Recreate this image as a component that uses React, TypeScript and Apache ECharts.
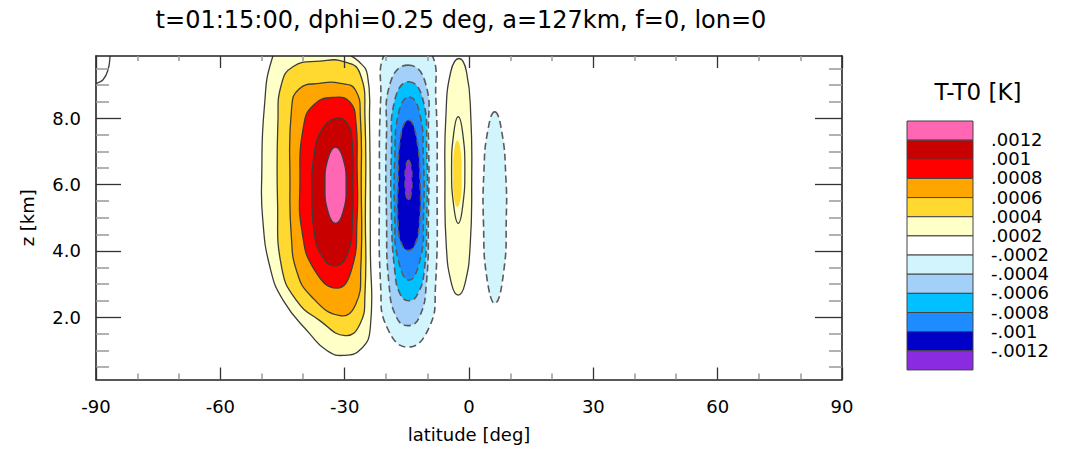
import React, { useEffect, useRef } from "react";
import * as echarts from "echarts";

const TITLE = "t=01:15:00, dphi=0.25 deg, a=127km, f=0, lon=0";
const X_NAME = "latitude [deg]";
const Y_NAME = "z [km]";
const LEGEND_TITLE = "T-T0 [K]";

const LAT_MIN = -90;
const LAT_MAX = 90;
const LAT_STEP = 30;
const Z_MIN = 0.125;
const Z_MAX = 9.875;
const zMajorTicks = [2, 4, 6, 8];
const zMinorTicks = [0.5, 1, 1.5, 2.5, 3, 3.5, 4.5, 5, 5.5, 6.5, 7, 7.5, 8.5, 9, 9.5];

const legendLabels = [".0012", ".001", ".0008", ".0006", ".0004", ".0002", "-.0002", "-.0004", "-.0006", "-.0008", "-.001", "-.0012"];
const bandColors = ["#FF66B4", "#C80000", "#FF0000", "#FFA500", "#FFD830", "#FFFFC8", "#FFFFFF", "#D2F4FC", "#A2D0F8", "#00C0FF", "#1E8CFF", "#0000C8", "#8A2BE2"];

// contour outlines: [latitude, z]
const warm02 = [[-44, 10.5], [-47.5, 9.8], [-49.4, 8.3], [-50.0, 6.3], [-49.8, 5.0], [-48.0, 3.5], [-44.8, 2.5], [-38.4, 1.5], [-34.3, 1.0], [-30.3, 0.85], [-26.0, 1.05], [-23.8, 1.7], [-23.8, 4.0], [-24.0, 7.9], [-24.5, 9.3], [-26.5, 9.7], [-29.5, 9.95], [-36, 10.5]];
const warm04 = [[-36, 9.72], [-42.5, 9.55], [-45.3, 9.0], [-46.1, 7.9], [-46.2, 5.5], [-45.2, 3.5], [-41.6, 2.5], [-36.0, 1.9], [-29.9, 1.45], [-26.3, 1.8], [-25.1, 2.7], [-25.0, 5.0], [-25.1, 8.0], [-26.3, 9.35], [-30, 9.7]];
const warm06 = [[-36, 9.05], [-41.0, 8.88], [-42.8, 8.3], [-43.2, 6.0], [-42.9, 4.5], [-41.6, 3.4], [-38.2, 2.65], [-31.1, 2.05], [-27.3, 2.4], [-26.1, 3.5], [-26.0, 6.0], [-26.2, 8.0], [-27.4, 8.85], [-31, 9.05]];
const warm08 = [[-32.3, 8.63], [-37.5, 8.4], [-40.0, 7.7], [-40.8, 6.0], [-40.3, 4.6], [-37.4, 3.45], [-31.9, 2.88], [-28.3, 3.45], [-27.0, 5.0], [-27.0, 6.5], [-27.3, 7.9], [-28.7, 8.48]];
const warm10 = [[-32.0, 8.0], [-35.5, 7.65], [-37.5, 6.8], [-37.9, 5.8], [-37.4, 4.6], [-35.5, 3.85], [-32.1, 3.55], [-29.2, 3.95], [-28.1, 5.0], [-28.0, 6.0], [-28.2, 7.3], [-29.4, 7.85]];
const warm12 = [[-32.2, 7.13], [-30.4, 6.79], [-29.65, 5.98], [-30.4, 5.17], [-32.2, 4.83], [-34.0, 5.17], [-34.75, 5.98], [-34.0, 6.79]];

const cold02 = [[-14.7, 10.5], [-9.2, 10.0], [-8.0, 8.6], [-7.7, 6.1], [-8.1, 2.9], [-9.6, 1.7], [-14.7, 1.1], [-19.8, 1.7], [-21.3, 2.9], [-21.6, 6.1], [-21.3, 8.6], [-20.2, 10.0]];
const cold04 = [[-14.7, 9.6], [-10.6, 9.1], [-9.8, 7.5], [-9.8, 5.0], [-10.3, 3.0], [-12.0, 2.0], [-14.7, 1.75], [-17.5, 2.0], [-19.3, 3.0], [-19.9, 5.0], [-19.9, 7.5], [-18.9, 9.1]];
const cold06 = [[-14.5, 9.1], [-11.2, 8.6], [-10.2, 7.0], [-10.2, 5.0], [-10.8, 3.4], [-12.4, 2.7], [-14.5, 2.5], [-16.6, 2.7], [-17.9, 3.4], [-18.7, 5.0], [-18.7, 7.0], [-17.8, 8.6]];
const cold08 = [[-14.5, 8.64], [-12.0, 8.2], [-11.0, 6.8], [-11.0, 5.0], [-11.7, 3.8], [-14.5, 3.12], [-17.2, 3.8], [-17.9, 5.0], [-17.9, 6.8], [-16.9, 8.2]];
const cold10 = [[-14.6, 7.94], [-12.8, 7.5], [-11.8, 6.0], [-12.0, 4.8], [-13.0, 4.2], [-14.6, 4.02], [-16.2, 4.2], [-17.1, 4.8], [-17.1, 6.0], [-16.4, 7.5]];
const cold12 = [[-14.6, 6.73], [-14.0, 6.55], [-13.8, 6.13], [-14.0, 5.7], [-14.6, 5.53], [-15.2, 5.7], [-15.4, 6.13], [-15.2, 6.55]];

const eqWarm02 = [[-2.4, 9.8], [-0.6, 9.4], [0.45, 8.0], [0.65, 6.2], [0.3, 4.2], [-1.0, 3.0], [-2.6, 2.67], [-4.2, 3.0], [-5.5, 4.2], [-5.8, 6.2], [-5.6, 8.0], [-4.4, 9.4]];
const eqWarm04Fill = [[-2.8, 7.33], [-2.0, 7.0], [-1.8, 6.3], [-2.0, 5.6], [-2.8, 5.33], [-3.6, 5.6], [-3.8, 6.3], [-3.6, 7.0]];
const eqWarm04Line = [[-2.6, 8.05], [-1.55, 7.58], [-1.0, 6.45], [-1.55, 5.32], [-2.6, 4.83], [-3.65, 5.32], [-4.2, 6.45], [-3.65, 7.58]];
const eqCold02 = [[6.2, 8.19], [7.9, 7.6], [8.9, 6.2], [9.0, 5.0], [8.4, 3.4], [6.3, 2.42], [4.3, 3.2], [3.5, 4.8], [3.6, 6.4], [4.5, 7.6]];
const cornerArc = [[-90.5, 8.98], [-90.0, 9.04], [-88.3, 9.16], [-87.1, 9.46], [-86.6, 9.87], [-86.5, 10.1]];

type Contour = { pts: number[][]; band: number; fill: boolean; line: "solid" | "dashed" | "none"; closed: boolean };
const contours: Contour[] = [
  { pts: warm02, band: 5, fill: true, line: "solid", closed: true },
  { pts: warm04, band: 4, fill: true, line: "solid", closed: true },
  { pts: warm06, band: 3, fill: true, line: "solid", closed: true },
  { pts: warm08, band: 2, fill: true, line: "solid", closed: true },
  { pts: warm10, band: 1, fill: true, line: "solid", closed: true },
  { pts: warm12, band: 0, fill: true, line: "solid", closed: true },
  { pts: cold02, band: 7, fill: true, line: "dashed", closed: true },
  { pts: cold04, band: 8, fill: true, line: "dashed", closed: true },
  { pts: cold06, band: 9, fill: true, line: "dashed", closed: true },
  { pts: cold08, band: 10, fill: true, line: "dashed", closed: true },
  { pts: cold10, band: 11, fill: true, line: "dashed", closed: true },
  { pts: cold12, band: 12, fill: true, line: "dashed", closed: true },
  { pts: eqWarm02, band: 5, fill: true, line: "solid", closed: true },
  { pts: eqWarm04Fill, band: 4, fill: true, line: "none", closed: true },
  { pts: eqWarm04Line, band: 4, fill: false, line: "solid", closed: true },
  { pts: eqCold02, band: 7, fill: true, line: "dashed", closed: true },
  { pts: cornerArc, band: 5, fill: false, line: "solid", closed: false },
];

const FONT = "'DejaVu Sans', sans-serif";

export default function App() {
  const ref = useRef<HTMLDivElement>(null);
  useEffect(() => {
    if (!ref.current) return;
    const chart = echarts.init(ref.current, null, { renderer: "svg" });

    const axisLineStyle = { color: "#222", width: 1.6 };
    const majorTickStyle = { color: "#333", width: 1.3 };
    const minorTickStyle = { color: "#999", width: 1.5 };

    const legendX = 907;
    const legendTop = 121;
    const boxW = 66;
    const boxH = 19.15;
    const legendEls: any[] = [];
    bandColors.forEach((c, i) => {
      legendEls.push({
        type: "rect",
        shape: { x: legendX, y: legendTop + i * boxH, width: boxW, height: boxH },
        style: { fill: c, stroke: "#444", lineWidth: 1 },
      });
    });
    legendLabels.forEach((t, i) => {
      legendEls.push({
        type: "text",
        x: 991,
        y: legendTop + (i + 1) * boxH - 0.5,
        style: { text: t, fill: "#000", fontSize: 18, fontFamily: FONT, align: "left", verticalAlign: "middle", textAlign: "left", textVerticalAlign: "middle" },
      });
    });

    const option: any = {
      animation: false,
      backgroundColor: "#fff",
      grid: { left: 96, top: 56, width: 746, height: 323.5, containLabel: false },
      graphic: [
        {
          type: "text",
          x: 461,
          y: 20,
          style: { text: TITLE, fill: "#000", fontSize: 24, fontFamily: FONT, align: "center", verticalAlign: "middle", textAlign: "center", textVerticalAlign: "middle" },
        },
        {
          type: "text",
          x: 978,
          y: 92,
          style: { text: LEGEND_TITLE, fill: "#000", fontSize: 23, fontFamily: FONT, align: "center", verticalAlign: "middle", textAlign: "center", textVerticalAlign: "middle" },
        },
        ...legendEls,
      ],
      xAxis: [
        {
          type: "value",
          position: "bottom",
          min: LAT_MIN,
          max: LAT_MAX,
          interval: LAT_STEP,
          z: 5,
          name: X_NAME,
          nameLocation: "middle",
          nameGap: 46,
          nameTextStyle: { fontSize: 18, fontFamily: FONT, color: "#000" },
          axisLine: { show: true, onZero: false, lineStyle: axisLineStyle },
          axisTick: { show: true, inside: true, length: 12, lineStyle: majorTickStyle },
          minorTick: { show: true, splitNumber: 3, length: 6, lineStyle: minorTickStyle },
          axisLabel: { fontSize: 18, fontFamily: FONT, color: "#000", margin: 18 },
          splitLine: { show: false },
          minorSplitLine: { show: false },
        },
        {
          type: "value",
          position: "top",
          min: LAT_MIN,
          max: LAT_MAX,
          interval: LAT_STEP,
          z: 5,
          axisLine: { show: true, onZero: false, lineStyle: axisLineStyle },
          axisTick: { show: true, inside: true, length: 12, lineStyle: majorTickStyle },
          minorTick: { show: true, splitNumber: 3, length: 5, lineStyle: minorTickStyle },
          axisLabel: { show: false },
          splitLine: { show: false },
          minorSplitLine: { show: false },
        },
      ],
      yAxis: [
        {
          type: "value",
          position: "left",
          min: Z_MIN,
          max: Z_MAX,
          z: 5,
          name: Y_NAME,
          nameLocation: "middle",
          nameGap: 60,
          nameTextStyle: { fontSize: 18, fontFamily: FONT, color: "#000" },
          axisLine: { show: true, onZero: false, lineStyle: axisLineStyle },
          axisTick: { show: true, inside: true, length: 25, customValues: zMajorTicks, lineStyle: majorTickStyle },
          axisLabel: { customValues: zMajorTicks, formatter: (v: number) => v.toFixed(1), fontSize: 18, fontFamily: FONT, color: "#000", margin: 15 },
          splitLine: { show: false },
        },
        {
          type: "value",
          position: "left",
          min: Z_MIN,
          max: Z_MAX,
          z: 5,
          axisLine: { show: false, onZero: false },
          axisTick: { show: true, inside: true, length: 13, customValues: zMinorTicks, lineStyle: minorTickStyle },
          axisLabel: { show: false },
          splitLine: { show: false },
        },
        {
          type: "value",
          position: "right",
          min: Z_MIN,
          max: Z_MAX,
          z: 5,
          axisLine: { show: true, onZero: false, lineStyle: axisLineStyle },
          axisTick: { show: true, inside: true, length: 27, customValues: zMajorTicks, lineStyle: majorTickStyle },
          axisLabel: { show: false },
          splitLine: { show: false },
        },
        {
          type: "value",
          position: "right",
          min: Z_MIN,
          max: Z_MAX,
          z: 5,
          axisLine: { show: false, onZero: false },
          axisTick: { show: true, inside: true, length: 13, customValues: zMinorTicks, lineStyle: minorTickStyle },
          axisLabel: { show: false },
          splitLine: { show: false },
        },
      ],
      series: [
        {
          type: "custom",
          xAxisIndex: 0,
          yAxisIndex: 0,
          clip: true,
          data: contours.map((c, i) => [c.pts[0][0], c.pts[0][1], i]),
          renderItem: (params: any, api: any) => {
            const c = contours[api.value(2)];
            const points = c.pts.map((p) => api.coord(p));
            const dashed = c.line === "dashed";
            return {
              type: c.closed ? "polygon" : "polyline",
              shape: { points, smooth: 0.5 },
              style: {
                fill: c.fill ? bandColors[c.band] : "none",
                stroke: c.line === "none" ? "none" : dashed ? "#5a5a5a" : "#3c3c3c",
                lineWidth: c.line === "none" ? 0 : dashed ? 1.6 : 1.3,
                lineDash: dashed ? [7, 4] : null,
              },
            };
          },
        },
      ],
    };
    chart.setOption(option);
    return () => chart.dispose();
  }, []);
  return <div ref={ref} style={{ position: "absolute", left: 0, top: 0, width: 1068, height: 451 }} />;
}
